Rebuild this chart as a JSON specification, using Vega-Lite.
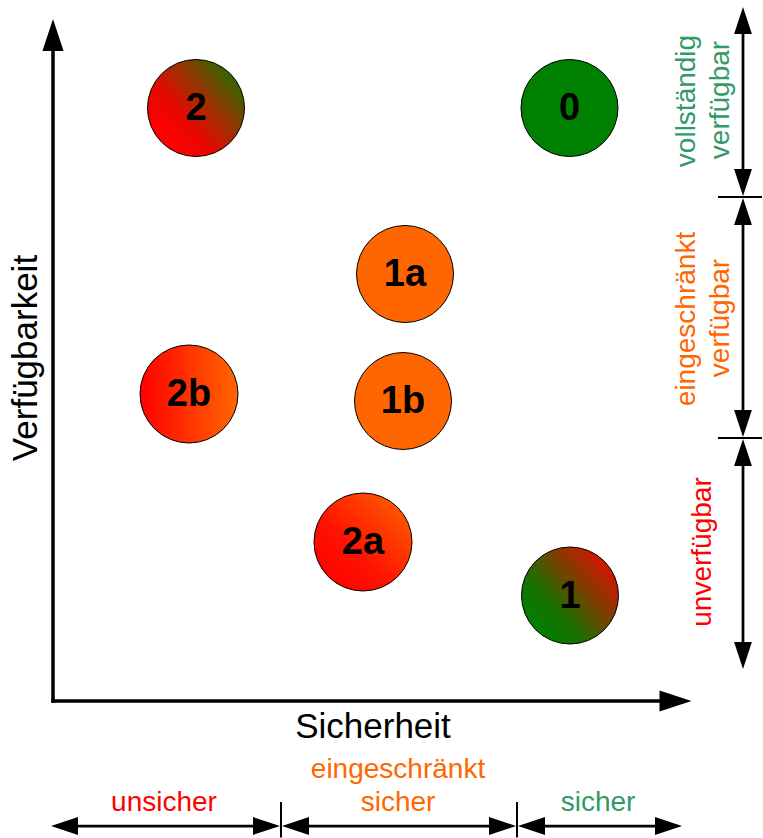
{
  "$schema": "https://vega.github.io/schema/vega-lite/v6.json",
  "width": 763,
  "height": 838,
  "padding": 0,
  "autosize": {"type": "none"},
  "config": {"view": {"stroke": null}, "font": "Liberation Sans"},
  "datasets": {
    "lines": [
      {"x": 53, "y": 702.7, "x2": 53, "y2": 45, "kind": "axis"},
      {"x": 51.3, "y": 701, "x2": 665, "y2": 701, "kind": "axis"},
      {"x": 743, "y": 20.5, "x2": 743, "y2": 182.5, "kind": "dim"},
      {"x": 743, "y": 211.5, "x2": 743, "y2": 423.5, "kind": "dim"},
      {"x": 743, "y": 452.5, "x2": 743, "y2": 655.5, "kind": "dim"},
      {"x": 64.5, "y": 826, "x2": 266.5, "y2": 826, "kind": "dim"},
      {"x": 295.5, "y": 826, "x2": 502.5, "y2": 826, "kind": "dim"},
      {"x": 531.5, "y": 826, "x2": 668.5, "y2": 826, "kind": "dim"},
      {"x": 718, "y": 197, "x2": 762, "y2": 197, "kind": "tick"},
      {"x": 718, "y": 438, "x2": 762, "y2": 438, "kind": "tick"},
      {"x": 281, "y": 802, "x2": 281, "y2": 837.5, "kind": "tick"},
      {"x": 517, "y": 802, "x2": 517, "y2": 837.5, "kind": "tick"}
    ],
    "heads": [
      {"x": 53, "y": 35, "dir": "up", "kind": "axis"},
      {"x": 675.5, "y": 701, "dir": "right", "kind": "axis"},
      {"x": 743, "y": 20.5, "dir": "up", "kind": "dim"},
      {"x": 743, "y": 182.5, "dir": "down", "kind": "dim"},
      {"x": 743, "y": 211.5, "dir": "up", "kind": "dim"},
      {"x": 743, "y": 423.5, "dir": "down", "kind": "dim"},
      {"x": 743, "y": 452.5, "dir": "up", "kind": "dim"},
      {"x": 743, "y": 655.5, "dir": "down", "kind": "dim"},
      {"x": 64.5, "y": 826, "dir": "left", "kind": "dim"},
      {"x": 266.5, "y": 826, "dir": "right", "kind": "dim"},
      {"x": 295.5, "y": 826, "dir": "left", "kind": "dim"},
      {"x": 502.5, "y": 826, "dir": "right", "kind": "dim"},
      {"x": 531.5, "y": 826, "dir": "left", "kind": "dim"},
      {"x": 668.5, "y": 826, "dir": "right", "kind": "dim"}
    ],
    "circles": [
      {"label": "2", "x": 196, "y": 108, "tone": "mixed"},
      {"label": "0", "x": 569.5, "y": 108, "tone": "green"},
      {"label": "1a", "x": 405, "y": 274, "tone": "orange"},
      {"label": "2b", "x": 189, "y": 394, "tone": "redorange"},
      {"label": "1b", "x": 403, "y": 401, "tone": "orange"},
      {"label": "2a", "x": 363, "y": 542, "tone": "redorange"},
      {"label": "1", "x": 570, "y": 595.5, "tone": "mixed"}
    ],
    "texts": [
      {"text": "Sicherheit", "x": 373, "y": 738, "tone": "black", "role": "title", "orient": "h"},
      {"text": "Verfügbarkeit", "x": 37, "y": 358, "tone": "black", "role": "title", "orient": "v"},
      {"text": "unsicher", "x": 164, "y": 811, "tone": "red", "role": "label", "orient": "h"},
      {"text": "eingeschränkt", "x": 398, "y": 778, "tone": "orange", "role": "label", "orient": "h"},
      {"text": "sicher", "x": 398, "y": 811, "tone": "orange", "role": "label", "orient": "h"},
      {"text": "sicher", "x": 598, "y": 811, "tone": "green", "role": "label", "orient": "h"},
      {"text": "vollständig", "x": 695, "y": 101, "tone": "green", "role": "label", "orient": "v"},
      {"text": "verfügbar", "x": 729, "y": 100, "tone": "green", "role": "label", "orient": "v"},
      {"text": "eingeschränkt", "x": 695, "y": 319, "tone": "orange", "role": "label", "orient": "v"},
      {"text": "verfügbar", "x": 729, "y": 318, "tone": "orange", "role": "label", "orient": "v"},
      {"text": "unverfügbar", "x": 711, "y": 552, "tone": "red", "role": "label", "orient": "v"}
    ]
  },
  "encoding": {
    "x": {"field": "x", "type": "quantitative", "scale": {"domain": [0, 763], "nice": false, "zero": false}, "axis": null},
    "y": {"field": "y", "type": "quantitative", "scale": {"domain": [0, 838], "nice": false, "zero": false, "reverse": true}, "axis": null}
  },
  "layer": [
    {
      "data": {"name": "lines"},
      "mark": {"type": "rule", "color": "black"},
      "encoding": {
        "x2": {"field": "x2"},
        "y2": {"field": "y2"},
        "strokeWidth": {"field": "kind", "type": "nominal", "scale": {"domain": ["axis", "dim", "tick"], "range": [3.5, 2, 1.5]}, "legend": null}
      }
    },
    {
      "data": {"name": "heads"},
      "mark": {"type": "point", "filled": true, "color": "black", "opacity": 1, "strokeWidth": 0},
      "encoding": {
        "shape": {"field": "dir", "type": "nominal", "scale": {"domain": ["up", "down", "left", "right"], "range": ["M0,-1L0.66,1L-0.66,1Z", "M0,1L0.66,-1L-0.66,-1Z", "M-1,0L1,0.66L1,-0.66Z", "M1,0L-1,0.66L-1,-0.66Z"]}, "legend": null},
        "size": {"field": "kind", "type": "nominal", "scale": {"domain": ["axis", "dim"], "range": [1024, 729]}, "legend": null}
      }
    },
    {
      "data": {"name": "circles"},
      "transform": [{"filter": "datum.tone == 'orange' || datum.tone == 'green'"}],
      "mark": {"type": "point", "shape": "circle", "size": 9409, "filled": true, "opacity": 1, "stroke": "black", "strokeWidth": 1},
      "encoding": {
        "fill": {"field": "tone", "type": "nominal", "scale": {"domain": ["orange", "green"], "range": ["#FF6600", "#008000"]}, "legend": null}
      }
    },
    {
      "data": {"name": "circles"},
      "transform": [{"filter": "datum.label == '2'"}],
      "mark": {"type": "point", "shape": "circle", "size": 9409, "filled": true, "opacity": 1, "stroke": "black", "strokeWidth": 1,
        "fill": {"gradient": "linear", "x1": 0.1, "y1": 0.75, "x2": 0.85, "y2": 0.1,
          "stops": [{"offset": 0, "color": "#FF0000"}, {"offset": 0.3, "color": "#E80800"}, {"offset": 0.65, "color": "#903800"}, {"offset": 1, "color": "#2C6A00"}]}}
    },
    {
      "data": {"name": "circles"},
      "transform": [{"filter": "datum.label == '1'"}],
      "mark": {"type": "point", "shape": "circle", "size": 9409, "filled": true, "opacity": 1, "stroke": "black", "strokeWidth": 1,
        "fill": {"gradient": "linear", "x1": 0.1, "y1": 0.8, "x2": 0.85, "y2": 0.15,
          "stops": [{"offset": 0, "color": "#008000"}, {"offset": 0.3, "color": "#1A7000"}, {"offset": 0.65, "color": "#7A4000"}, {"offset": 1, "color": "#D21600"}]}}
    },
    {
      "data": {"name": "circles"},
      "transform": [{"filter": "datum.label == '2b'"}],
      "mark": {"type": "point", "shape": "circle", "size": 9604, "filled": true, "opacity": 1, "stroke": "black", "strokeWidth": 1,
        "fill": {"gradient": "linear", "x1": 0, "y1": 0.5, "x2": 1, "y2": 0.5,
          "stops": [{"offset": 0, "color": "#FF0000"}, {"offset": 1, "color": "#FF6600"}]}}
    },
    {
      "data": {"name": "circles"},
      "transform": [{"filter": "datum.label == '2a'"}],
      "mark": {"type": "point", "shape": "circle", "size": 9604, "filled": true, "opacity": 1, "stroke": "black", "strokeWidth": 1,
        "fill": {"gradient": "linear", "x1": 0.1, "y1": 0.9, "x2": 0.9, "y2": 0.1,
          "stops": [{"offset": 0, "color": "#FF0000"}, {"offset": 0.4, "color": "#FF1400"}, {"offset": 1, "color": "#FF5A00"}]}}
    },
    {
      "data": {"name": "circles"},
      "mark": {"type": "text", "font": "Liberation Sans", "fontWeight": "bold", "fontSize": 38, "color": "black", "align": "center", "baseline": "alphabetic", "dy": 12},
      "encoding": {"text": {"field": "label"}}
    },
    {
      "data": {"name": "texts"},
      "transform": [{"filter": "datum.role == 'title' && datum.orient == 'h'"}],
      "mark": {"type": "text", "fontSize": 35, "align": "center", "baseline": "alphabetic"},
      "encoding": {"text": {"field": "text"}, "color": {"field": "tone", "type": "nominal", "scale": {"domain": ["black", "red", "orange", "green"], "range": ["#000000", "#FF0000", "#FF6600", "#339966"]}, "legend": null}}
    },
    {
      "data": {"name": "texts"},
      "transform": [{"filter": "datum.role == 'title' && datum.orient == 'v'"}],
      "mark": {"type": "text", "fontSize": 35, "align": "center", "baseline": "alphabetic", "angle": 270},
      "encoding": {"text": {"field": "text"}, "color": {"field": "tone", "type": "nominal", "legend": null}}
    },
    {
      "data": {"name": "texts"},
      "transform": [{"filter": "datum.role == 'label' && datum.orient == 'h'"}],
      "mark": {"type": "text", "fontSize": 28, "align": "center", "baseline": "alphabetic"},
      "encoding": {"text": {"field": "text"}, "color": {"field": "tone", "type": "nominal", "legend": null}}
    },
    {
      "data": {"name": "texts"},
      "transform": [{"filter": "datum.role == 'label' && datum.orient == 'v'"}],
      "mark": {"type": "text", "fontSize": 28, "align": "center", "baseline": "alphabetic", "angle": 270},
      "encoding": {"text": {"field": "text"}, "color": {"field": "tone", "type": "nominal", "legend": null}}
    }
  ]
}
